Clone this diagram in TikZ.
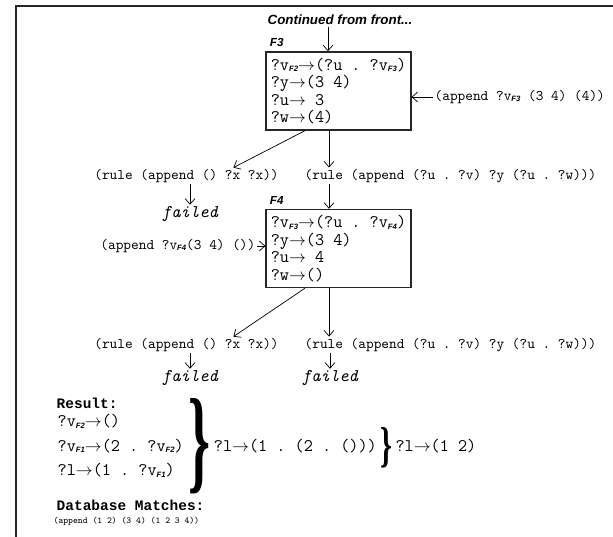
\documentclass[tikz,border=0pt]{standalone}
\usepackage{fontspec}
\setmainfont{Liberation Serif}
\setsansfont{Liberation Sans}
\newfontfamily\boldmono{Liberation Mono}
\usepackage{graphicx}
\usetikzlibrary{arrows.meta, positioning, calc}

% frame subscripts and the binding arrow
\newcommand{\fsub}[1]{\raisebox{-0.2ex}{\fontsize{5.5}{6}\selectfont\sffamily\bfseries\itshape #1}}
\newcommand{\ra}{\ensuremath{\rightarrow}}
\frenchspacing

\tikzset{
  arr/.style={line width=0.5pt, -{Straight Barb[length=4pt, width=7pt]}},
  envbox/.style={draw=black!85, line width=1pt, minimum width=3.475cm, minimum height=1.95cm, align=left, font=\fontsize{12.6}{12.4}\selectfont\ttfamily},
  envlbl/.style={inner sep=1pt, font=\fontsize{8.3}{10}\selectfont\sffamily\bfseries\itshape},
  rulelbl/.style={inner sep=1pt, font=\fontsize{10.4}{12}\selectfont\ttfamily},
  faillbl/.style={inner sep=1pt, font=\fontsize{12.7}{14}\selectfont\ttfamily\itshape},
  headlbl/.style={inner sep=1pt, anchor=west, font=\fontsize{10.3}{12}\selectfont\boldmono\bfseries},
  bindlbl/.style={inner sep=1pt, font=\fontsize{12.6}{17.4}\selectfont\ttfamily}
}

\begin{document}
\begin{tikzpicture}
  \useasboundingbox (0,0) rectangle (15.325,13.425);
  \draw[line width=1.1pt, black!85] (0.4,0) -- (0.4,13.275) -- (15.325,13.275);

  % Frame F3
  \node[inner sep=1pt, font=\fontsize{9.5}{11}\selectfont\sffamily\bfseries\itshape] (cont) at (8.5, 12.925) {Continued from front...};
  \node[envbox] (f3) at (8.4625, 11.15) {?v\fsub{F2}\ra(?u . ?v\fsub{F3})\\ ?y\ra(3 4)\\ ?u\ra{} 3\\ ?w\ra(4)};
  \node[envlbl, anchor=south west] (f3lbl) at ([xshift=2pt, yshift=2pt]f3.north west) {F3};
  \node[rulelbl, anchor=west] (in3) at (10.825, 11.0) {(append ?v\fsub{F3} (3 4) (4))};
  \draw[arr] ([xshift=-0.3cm]cont.south) -- ([xshift=-0.2625cm]f3.north);
  \draw[arr] (in3.west) -- (in3.west -| f3.east);

  % Rules tried on F3
  \node[rulelbl] (r1l) at (4.6625, 9.025) {(rule (append () ?x ?x))};
  \node[rulelbl, anchor=west] (r1r) at (7.575, 9.025) {(rule (append (?u . ?v) ?y (?u . ?w)))};
  \node[faillbl] (fail1) at (4.75, 8.075) {failed};
  \draw[arr] ([xshift=-0.8375cm]f3.south) -- ($(r1l.north)!0.5!(r1l.north east)$);
  \draw[arr] ([xshift=-0.2375cm]f3.south) -- ([xshift=-0.2375cm]f3.south |- r1r.north);
  \draw[arr] (r1l.south -| fail1) -- (fail1.north);

  % Frame F4
  \node[envbox] (f4) at (8.4625, 7.2125) {?v\fsub{F3}\ra(?u . ?v\fsub{F4})\\ ?y\ra(3 4)\\ ?u\ra{} 4\\ ?w\ra()};
  \node[envlbl, anchor=south west] (f4lbl) at ([xshift=2pt, yshift=2pt]f4.north west) {F4};
  \node[rulelbl, anchor=east] (in4) at (6.425, 7.275) {(append ?v\fsub{F4}(3 4) ())};
  \draw[arr] ([xshift=-0.2375cm]f4.north |- r1r.south) -- ([xshift=-0.2375cm]f4.north);
  \draw[arr] (in4.east) -- (in4.east -| f4.west);

  % Rules tried on F4
  \node[rulelbl] (r2l) at (4.6625, 4.8) {(rule (append () ?x ?x))};
  \node[rulelbl, anchor=west] (r2r) at (7.575, 4.8) {(rule (append (?u . ?v) ?y (?u . ?w)))};
  \node[faillbl] (fail2) at (4.75, 3.975) {failed};
  \node[faillbl] (fail3) at (8.25, 3.975) {failed};
  \draw[arr] ([xshift=-0.8375cm]f4.south) -- ($(r2l.north)!0.5!(r2l.north east)$);
  \draw[arr] ([xshift=-0.2375cm]f4.south) -- ([xshift=-0.2375cm]f4.south |- r2r.north);
  \draw[arr] (r2l.south -| fail2) -- (fail2.north);
  \draw[arr] (r2r.south -| fail3) -- (fail3.north);

  % Result
  \node[headlbl] (res) at (1.375, 3.35) {Result:};
  \node[bindlbl, anchor=west, align=left] (binds) at (1.4, 2.275) {?v\fsub{F2}\ra()\\ ?v\fsub{F1}\ra(2 . ?v\fsub{F2})\\ ?l\ra(1 . ?v\fsub{F1})};
  \node[inner sep=0pt, right=2pt of binds] (bigbr) {\resizebox{0.55cm}{2cm}{\bfseries\}}};
  \node[bindlbl, right=1pt of bigbr] (cons) {?l\ra(1 . (2 . ()))};
  \node[inner sep=0pt, right=1pt of cons, yshift=-1pt] (smallbr) {\resizebox{0.3cm}{0.85cm}{\bfseries\}}};
  \node[bindlbl, right=1pt of smallbr, yshift=1pt] (final) {?l\ra(1 2)};

  % Database
  \node[headlbl] (db) at (1.375, 0.8) {Database Matches:};
  \node[inner sep=1pt, anchor=west, font=\fontsize{6.5}{8}\selectfont\ttfamily] (dbline) at (1.3, 0.4) {(append (1 2) (3 4) (1 2 3 4))};
\end{tikzpicture}
\end{document}
